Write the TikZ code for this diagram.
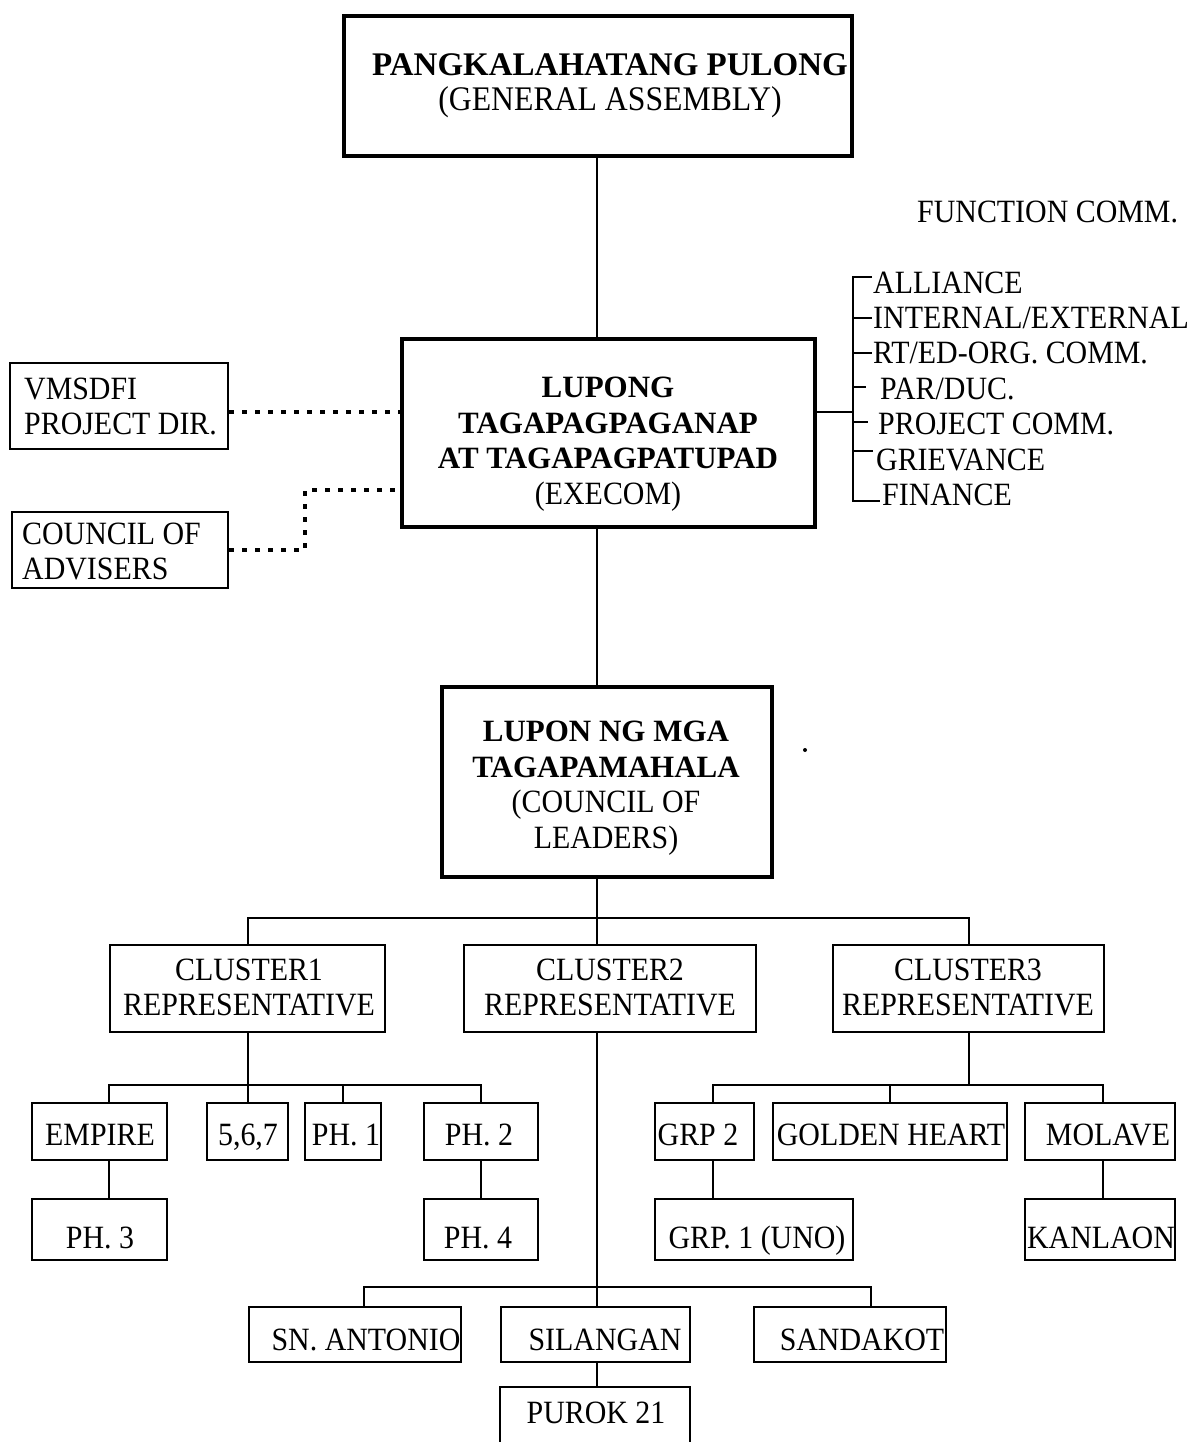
\documentclass[tikz,border=0pt]{standalone}
\usepackage{fontspec}
\setmainfont{Liberation Serif}[FakeStretch=0.92]
\newfontfamily\hdrfam{Liberation Serif}
\newcommand\hdr[1]{{\hdrfam\fontsize{31}{35.5}\selectfont\bfseries #1}}
\newcommand\gahdr[1]{{\hdrfam\fontsize{33}{35}\selectfont\bfseries #1}}
\begin{document}
\begin{tikzpicture}[x=1pt,y=-1pt,
  bigbox/.style={draw, line width=3.5pt, inner sep=0pt},
  smallbox/.style={draw, line width=2.2pt, inner sep=0pt},
  conn/.style={line width=2pt},
  dotconn/.style={line width=3.2pt, dash pattern=on 5pt off 8pt},
  txt/.style={inner sep=0pt, font=\fontsize{32.5}{35.5}\selectfont, text height=21.5pt, text depth=0pt},
  mtxt/.style={inner sep=0pt, align=center, font=\fontsize{32.5}{35.5}\selectfont}]
\fill[white] (0,0) rectangle (1196,1442);
\clip (0,0) rectangle (1196,1442);
\coordinate (spine) at (597,0);
% top levels
\node[bigbox, minimum width=508pt, minimum height=140pt] (ga) at (598,86) {};
\node[mtxt] (gat) at (610,85.5) {\gahdr{PANGKALAHATANG PULONG}\\{\fontsize{34.5}{35}\selectfont (GENERAL ASSEMBLY)}};
\node[bigbox, minimum width=413pt, minimum height=188pt] (exe) at (608.5,433) {};
\node[mtxt] (exet) at (608,444) {\hdr{LUPONG}\\\hdr{TAGAPAGPAGANAP}\\\hdr{AT TAGAPAGPATUPAD}\\(EXECOM)};
\node[bigbox, minimum width=330pt, minimum height=190pt] (cl) at (607,782) {};
\node[mtxt] (clt) at (606,788) {\hdr{LUPON NG MGA}\\\hdr{TAGAPAMAHALA}\\(COUNCIL OF\\LEADERS)};
% left side boxes
\node[smallbox, minimum width=218pt, minimum height=86pt] (vms) at (119,406) {};
\node[mtxt, align=left, anchor=west] (vmst) at (24,406.5) {VMSDFI\\PROJECT DIR.};
\node[smallbox, minimum width=216pt, minimum height=76pt] (coa) at (120,550) {};
\node[mtxt, align=left, anchor=west] (coat) at (22,551.5) {COUNCIL OF\\ADVISERS};
% function committees
\node[txt, anchor=west] (fc) at (917,212) {FUNCTION COMM.};
\node[txt, anchor=west] (f1) at (873,283) {ALLIANCE};
\node[txt, anchor=west] (f2) at (873,318) {INTERNAL/EXTERNAL};
\node[txt, anchor=west] (f3) at (873,353) {RT/ED-ORG. COMM.};
\node[txt, anchor=west] (f4) at (880,389) {PAR/DUC.};
\node[txt, anchor=west] (f5) at (878,424) {PROJECT COMM.};
\node[txt, anchor=west] (f6) at (876,460) {GRIEVANCE};
\node[txt, anchor=west] (f7) at (882,495) {FINANCE};
\coordinate (btop) at (853,277);
\coordinate (bbot) at (853,501);
\coordinate (bmid) at (853,412);
% clusters
\node[smallbox, minimum width=275pt, minimum height=87pt] (c1) at (247.5,988.5) {};
\node[mtxt] (c1t) at (249,987.5) {CLUSTER1\\REPRESENTATIVE};
\node[smallbox, minimum width=292pt, minimum height=87pt] (c2) at (610,988.5) {};
\node[mtxt] (c2t) at (610,987.5) {CLUSTER2\\REPRESENTATIVE};
\node[smallbox, minimum width=271pt, minimum height=87pt] (c3) at (968.5,988.5) {};
\node[mtxt] (c3t) at (968,987.5) {CLUSTER3\\REPRESENTATIVE};
% row 2
\node[smallbox, minimum width=135pt, minimum height=57pt] (empire) at (99.5,1131.5) {};
\node[txt] (empiret) at (100,1135) {EMPIRE};
\node[smallbox, minimum width=81pt, minimum height=57pt] (s567) at (247.5,1131.5) {};
\node[txt] (s567t) at (248,1135) {5,6,7};
\node[smallbox, minimum width=76pt, minimum height=57pt] (ph1) at (343,1131.5) {};
\node[txt] (ph1t) at (346,1135) {PH. 1};
\node[smallbox, minimum width=114pt, minimum height=57pt] (ph2) at (481,1131.5) {};
\node[txt] (ph2t) at (479,1135) {PH. 2};
\node[smallbox, minimum width=99pt, minimum height=57pt] (grp2) at (704.5,1131.5) {};
\node[txt] (grp2t) at (698,1135) {GRP 2};
\node[smallbox, minimum width=234pt, minimum height=57pt] (golden) at (890,1131.5) {};
\node[txt] (goldent) at (891,1135) {GOLDEN HEART};
\node[smallbox, minimum width=150pt, minimum height=57pt] (molave) at (1100,1131.5) {};
\node[txt] (molavet) at (1108,1135) {MOLAVE};
% row 3
\node[smallbox, minimum width=135pt, minimum height=61pt] (ph3) at (99.5,1229.5) {};
\node[txt] (ph3t) at (100,1238) {PH. 3};
\node[smallbox, minimum width=114pt, minimum height=61pt] (ph4) at (481,1229.5) {};
\node[txt] (ph4t) at (478,1238) {PH. 4};
\node[smallbox, minimum width=198pt, minimum height=61pt] (grp1) at (754,1229.5) {};
\node[txt] (grp1t) at (757,1238) {GRP. 1 (UNO)};
\node[smallbox, minimum width=150pt, minimum height=61pt] (kanlaon) at (1100,1229.5) {};
\node[txt] (kanlaont) at (1101,1238) {KANLAON};
% row 4
\node[smallbox, minimum width=212pt, minimum height=55pt] (snant) at (355,1334.5) {};
\node[txt] (snantt) at (366,1340) {SN. ANTONIO};
\node[smallbox, minimum width=189pt, minimum height=55pt] (silangan) at (595.5,1334.5) {};
\node[txt] (silangant) at (605,1340) {SILANGAN};
\node[smallbox, minimum width=192pt, minimum height=55pt] (sandakot) at (850,1334.5) {};
\node[txt] (sandakott) at (862,1340) {SANDAKOT};
\node[smallbox, minimum width=190pt, minimum height=100pt] (purok) at (595,1437) {};
\node[txt] (purokt) at (596,1413) {PUROK 21};
% connectors: spine
\draw[conn] (spine |- ga.south) -- (spine |- exe.north);
\draw[conn] (spine |- exe.south) -- (spine |- cl.north);
\draw[conn] (spine |- cl.south) -- (spine |- c2.north);
\coordinate (bus1) at (597,918);
\draw[conn] (c1.north) |- (bus1) -| (c3.north);
% function bracket
\draw[conn] (exe.east |- bmid) -- (bmid);
\draw[conn] ([xshift=19pt]btop) -- (btop) -- (bbot) -- ++(27,0);
\draw[conn] (btop |- f2.west) -- ([xshift=-1pt]f2.west);
\draw[conn] (btop |- f3.west) -- ([xshift=-1pt]f3.west);
\draw[conn] ([yshift=2pt]btop |- f4.west) -- ++(13,0);
\draw[conn] ([yshift=2pt]btop |- f5.west) -- ++(15,0);
\draw[conn] (853,451) -- ++(20,0);
% dotted advisers
\draw[dotconn] ([yshift=-6pt]vms.east) -- ([yshift=-6pt]vms.east -| exe.west);
\coordinate (cbend) at (305,490);
\draw[dotconn] (coa.east) -| (cbend) -- (cbend -| exe.west);
% cluster 1
\coordinate (ex) at (109,1085);
\draw[conn] (c1.south) -- (s567.north);
\draw[conn] (ex |- empire.north) -- (ex) -| (ph2.north);
\draw[conn] (ph1.north) -- (ph1.north |- ex);
\draw[conn] (ex |- empire.south) -- (ex |- ph3.north);
\draw[conn] (ph2.south) -- (ph4.north);
% cluster 3
\coordinate (gx) at (713,1085);
\coordinate (mx) at (1103,1085);
\draw[conn] (c3.south) -- (c3.south |- gx);
\draw[conn] (gx |- grp2.north) -- (gx) -- (mx) -- (mx |- molave.north);
\draw[conn] (golden.north) -- (golden.north |- gx);
\draw[conn] (gx |- grp2.south) -- (gx |- grp1.north);
\draw[conn] (mx |- molave.south) -- (mx |- kanlaon.north);
% cluster 2
\coordinate (sx) at (364,1287);
\coordinate (kx) at (871,1287);
\draw[conn] (spine |- c2.south) -- (spine |- silangan.north);
\draw[conn] (sx |- snant.north) -- (sx) -- (kx) -- (kx |- sandakot.north);
\draw[conn] (spine |- silangan.south) -- (spine |- purok.north);
% stray mark
\fill (805,750) circle (2pt);
\end{tikzpicture}
\end{document}
